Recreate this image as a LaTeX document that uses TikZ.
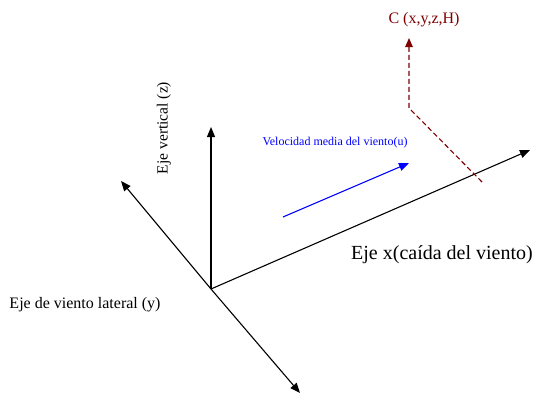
\documentclass[tikz,border=0pt]{standalone}
\usepackage{fontspec}
\setmainfont{Liberation Serif}
\usetikzlibrary{arrows.meta,positioning}
\definecolor{Maroon}{HTML}{800000}
\definecolor{Wind}{HTML}{0000FF}

\begin{document}
\begin{tikzpicture}[x=1pt,y=-1pt,
    axis/.style={-{Triangle[length=10pt,width=8pt]},line width=1.1pt,black},
    flow/.style={-{Triangle[length=10pt,width=8pt]},line width=1.1pt,Wind},
    probe/.style={-{Triangle[length=9pt,width=7.5pt]},line width=1.1pt,Maroon,dash pattern=on 5pt off 3pt},
    lab/.style={inner sep=0pt,font=\fontsize{#1}{#1}\selectfont}
  ]
    \useasboundingbox (0,0) rectangle (535,394);
    % axes
    \coordinate (O) at (211,289);
    \coordinate (xend) at (530,150);
    \coordinate (zend) at (211,127);
    \coordinate (yneg) at (121,181);
    \coordinate (ypos) at (300,393);
    \draw[axis] (O) -- (xend);
    \draw[axis] (O) -- (zend);
    \draw[axis] (O) -- (yneg);
    \draw[axis] (O) -- (ypos);
    % mean wind
    \coordinate (u0) at (283,217);
    \coordinate (u1) at (409,163);
    \draw[flow] (u0) -- (u1);
    % receptor point
    \coordinate (p0) at (482,182);
    \coordinate (pk) at (409,108);
    \coordinate (p1) at (409,38);
    \draw[probe] (p0) -- (pk) -- (p1);
    % labels
    \node[lab=16,text=Maroon] (clab) at (424,20) {C (x,y,z,H)};
    \node[lab=12,text=Wind] (ulab) at (335,143) {Velocidad media del viento(u)};
    \node[lab=20] (xlab) at (442,255) {Eje x(caída del viento)};
    \node[lab=15.5,rotate=90] (zlab) at (164,128) {Eje vertical (z)};
    \node[lab=16] (ylab) at (85,305) {Eje de viento lateral (y)};
  \end{tikzpicture}
\end{document}
